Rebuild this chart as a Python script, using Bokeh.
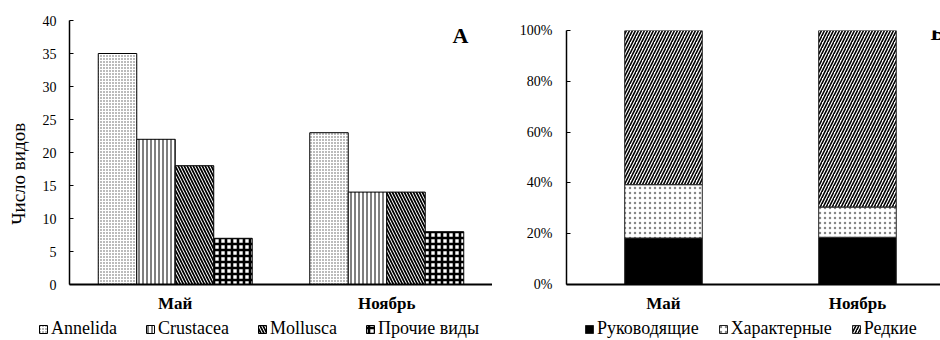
import numpy as np
from bokeh.plotting import figure
from bokeh.models import (Range1d, FixedTicker, PrintfTickFormatter, Legend, LegendItem,
                          Label, ColumnDataSource)
from bokeh.layouts import row, column
from bokeh.embed import file_html
from bokeh.resources import INLINE

# ---------------- data ----------------
months = ["Май", "Ноябрь"]
groups = ["Annelida", "Crustacea", "Mollusca", "Прочие виды"]
annelida = [35, 23]
crustacea = [22, 14]
mollusca = [18, 14]
prochie = [7, 8]

status = ["Руководящие", "Характерные", "Редкие"]
rukovod = [18.3, 18.6]
harakter = [21.0, 11.9]
redkie = [60.7, 69.5]

left_ticks = [0, 5, 10, 15, 20, 25, 30, 35, 40]
right_ticks = [0, 20, 40, 60, 80, 100]

FONT = "Liberation Serif"

# ---------------- styles ----------------
left_styles = [
    dict(fill_color="white", hatch_pattern="dot", hatch_scale=3, hatch_color="#555"),
    dict(fill_color="white", hatch_pattern="vertical_line", hatch_scale=4, hatch_weight=1, hatch_color="black"),
    dict(fill_color="white", hatch_pattern="left_diagonal_line", hatch_scale=6, hatch_weight=1.7, hatch_color="black"),
    dict(fill_color="white", hatch_pattern="cross", hatch_scale=6, hatch_weight=2.6, hatch_color="black"),
]
right_styles = [
    dict(fill_color="black", hatch_pattern=" "),
    dict(fill_color="white", hatch_pattern="dot", hatch_scale=5, hatch_color="#888"),
    dict(fill_color="white", hatch_pattern="right_diagonal_line", hatch_scale=6, hatch_weight=1.6, hatch_color="black"),
]

MAIN_H = 315
LEG_H = 25


def style_axes(p, label_standoff):
    for ax in (p.xaxis[0], p.yaxis[0]):
        ax.axis_line_color = "black"
        ax.axis_line_width = 1.5
        ax.major_label_text_font = FONT
        ax.major_label_text_color = "black"
    p.yaxis.major_tick_in = 4
    p.yaxis.major_tick_out = 0
    p.yaxis.minor_tick_line_color = None
    p.yaxis.major_tick_line_color = "black"
    p.yaxis.major_tick_line_width = 1.2
    p.yaxis.major_label_text_font_size = "14px"
    p.yaxis.major_label_standoff = label_standoff
    p.xaxis.major_tick_line_color = None
    p.xaxis.minor_tick_line_color = None
    p.xaxis.major_label_text_font_size = "17px"
    p.xaxis.major_label_text_font_style = "bold"
    p.xaxis.major_label_standoff = 3
    p.xaxis.axis_line_width = 2
    p.xgrid.grid_line_color = None
    p.ygrid.grid_line_color = None
    p.outline_line_color = None


def legend_fig(width):
    f = figure(width=width, height=LEG_H, output_backend="svg", toolbar_location=None,
               x_range=Range1d(0, 1), y_range=Range1d(0, 1),
               x_axis_location=None, y_axis_location=None,
               min_border_left=0, min_border_right=0, min_border_top=0, min_border_bottom=0)
    f.xgrid.grid_line_color = None
    f.ygrid.grid_line_color = None
    f.outline_line_color = None
    return f


xc = np.arange(len(months)) + 0.5

# ---------------- left panel ----------------
pL = figure(width=492, height=MAIN_H, output_backend="svg", toolbar_location=None,
            x_range=Range1d(0, 2.0), y_range=Range1d(0, 40),
            min_border_left=69, min_border_right=0, min_border_top=20, min_border_bottom=30)
bw = 0.182
series = [annelida, crustacea, mollusca, prochie]
offsets = [-1.5 * bw, -0.5 * bw, 0.5 * bw, 1.5 * bw]
for vals, off, st in zip(series, offsets, left_styles):
    pL.vbar(x=xc + off, top=vals, width=bw, line_color="black", line_width=1, **st)

style_axes(pL, 13)
pL.yaxis.ticker = FixedTicker(ticks=left_ticks)
pL.xaxis.ticker = FixedTicker(ticks=list(xc))
pL.xaxis.major_label_overrides = {float(x): m for x, m in zip(xc, months)}
pL.yaxis.axis_label = "Число видов" + "\u00a0" * 9
pL.yaxis.axis_label_text_font = FONT
pL.yaxis.axis_label_text_color = "black"
pL.yaxis.axis_label_text_font_style = "normal"
pL.yaxis.axis_label_text_font_size = "19px"
pL.yaxis.axis_label_standoff = 11
pL.add_layout(Label(x=1.811, y=37.66, text="A", text_color="black", text_baseline="middle",
                    text_font=FONT, text_font_size="22px", text_font_style="bold"))

# left legend
lL = legend_fig(492)
itemsL = []
for name, vals, st in zip(groups, series, left_styles):
    r = lL.vbar(x=xc, top=vals, width=bw, line_color="black", line_width=1, visible=False, **st)
    itemsL.append(LegendItem(label=name, renderers=[r]))
lL.add_layout(Legend(items=itemsL, orientation="horizontal", location=(38, 1),
                     glyph_width=10, glyph_height=10, label_text_font=FONT, label_text_color="black",
                     label_text_font_size="18px", label_standoff=3, spacing=28,
                     padding=0, margin=0, border_line_color=None, background_fill_color=None,
                     label_height=18))

# ---------------- right panel ----------------
pR = figure(width=448, height=MAIN_H, output_backend="svg", toolbar_location=None,
            x_range=Range1d(0, 1.928), y_range=Range1d(0, 100),
            min_border_left=74, min_border_right=0, min_border_top=30, min_border_bottom=30)
src = ColumnDataSource(dict(x=xc, **{s: v for s, v in zip(status, [rukovod, harakter, redkie])}))
pR.vbar_stack(status, x="x", width=0.40, source=src, line_color="#222", line_width=1,
              fill_color=[s["fill_color"] for s in right_styles],
              hatch_pattern=[s["hatch_pattern"] for s in right_styles],
              hatch_scale=[s.get("hatch_scale", 6) for s in right_styles],
              hatch_weight=[s.get("hatch_weight", 1) for s in right_styles],
              hatch_color=[s.get("hatch_color", "black") for s in right_styles])
style_axes(pR, 14)
pR.yaxis.ticker = FixedTicker(ticks=right_ticks)
pR.yaxis.formatter = PrintfTickFormatter(format="%d%%")
pR.xaxis.ticker = FixedTicker(ticks=list(xc))
pR.xaxis.major_label_overrides = {float(x): m for x, m in zip(xc, months)}
pR.add_layout(Label(x=1.876, y=99.4, text="Б", text_color="black", text_baseline="middle",
                    text_font=FONT, text_font_size="22px", text_font_style="bold"))

# right legend
lR = legend_fig(448)
itemsR = []
for name, vals, st in zip(status, [rukovod, harakter, redkie], right_styles):
    r = lR.vbar(x=xc, top=vals, width=0.4, line_color="#222", line_width=1, visible=False, **st)
    itemsR.append(LegendItem(label=name, renderers=[r]))
lR.add_layout(Legend(items=itemsR, orientation="horizontal", location=(92, 1),
                     glyph_width=10, glyph_height=10, label_text_font=FONT, label_text_color="black",
                     label_text_font_size="18px", label_standoff=3, spacing=19,
                     padding=0, margin=0, border_line_color=None, background_fill_color=None,
                     label_height=18))

layout = column(row(column(pL), column(pR)), row(lL, lR))
open("out.html", "w").write(file_html(layout, INLINE))
